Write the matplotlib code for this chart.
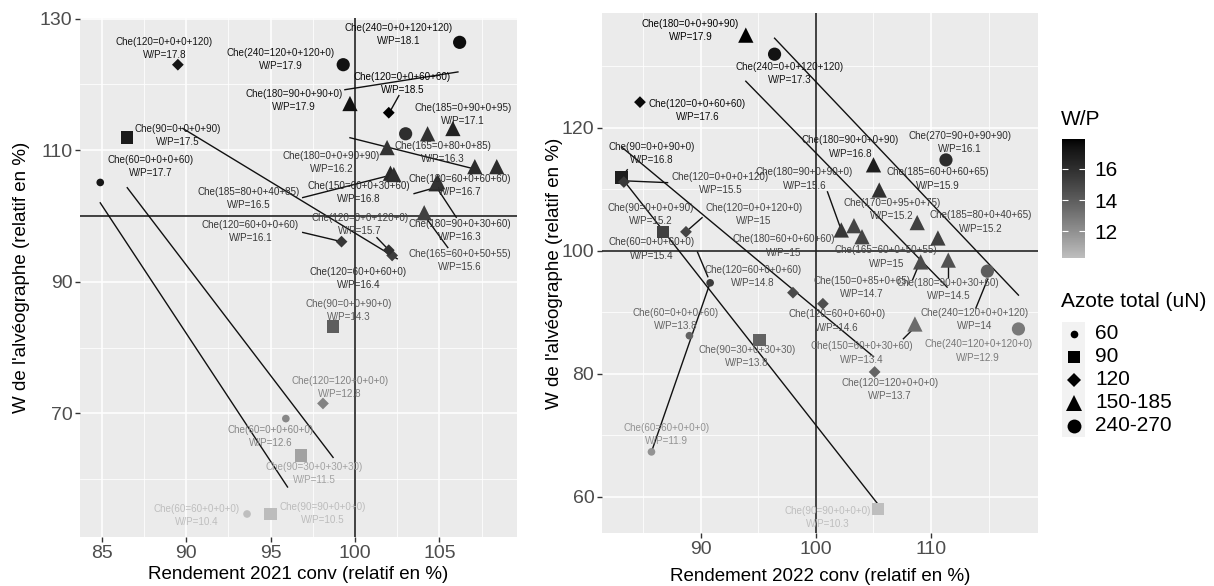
import matplotlib
matplotlib.use("Agg")
import matplotlib.pyplot as plt
import numpy as np
from matplotlib.colors import ListedColormap, Normalize
from matplotlib.cm import ScalarMappable
from matplotlib.ticker import MultipleLocator

plt.rcParams['font.family'] = ['Liberation Sans', 'DejaVu Sans']

# ---- 2021 (left panel) ----
x21 = [89.5, 86.5, 84.9, 99.3, 106.2, 99.7, 102.0, 103.0, 105.8, 104.3, 101.9, 107.1, 108.4,
       102.1, 104.8, 104.1, 102.3, 104.9, 99.2, 102.2, 102.0, 98.1, 98.7, 96.8, 95.0, 95.9, 93.6]
y21 = [123.0, 111.9, 105.1, 123.0, 126.4, 117.1, 115.7, 112.5, 113.3, 112.5, 110.4, 107.5, 107.5,
       106.5, 104.9, 100.5, 106.3, 105.2, 96.1, 94.0, 94.8, 71.5, 83.2, 63.6, 54.7, 69.2, 54.7]
wp21 = [17.8, 17.5, 17.7, 17.9, 18.1, 17.9, 18.5, 16.5, 17.1, 16.3, 16.2, 16.6, 16.6,
        16.8, 16.7, 15.6, 16.5, 16.3, 16.1, 15.7, 16.4, 12.8, 14.3, 11.5, 10.5, 12.6, 10.4]
grp21 = ['120', '90', '60', '240-270', '240-270', '150-185', '120', '240-270', '150-185', '150-185',
         '150-185', '150-185', '150-185', '150-185', '150-185', '150-185', '150-185', '150-185',
         '120', '120', '120', '120', '90', '90', '90', '60', '60']
lab21 = ['Che(120=0+0+0+120)', 'Che(90=0+0+0+90)', 'Che(60=0+0+0+60)', 'Che(240=120+0+120+0)',
         'Che(240=0+0+120+120)', 'Che(180=90+0+90+0)', 'Che(120=0+0+60+60)', '',
         'Che(185=0+90+0+95)', 'Che(165=0+80+0+85)', 'Che(180=0+0+90+90)', '', '',
         'Che(150=60+0+30+60)', 'Che(180=60+0+60+60)', 'Che(165=60+0+50+55)',
         'Che(185=80+0+40+85)', 'Che(180=90+0+30+60)', 'Che(120=60+0+0+60)',
         'Che(120=0+0+120+0)', 'Che(120=60+0+60+0)', 'Che(120=120+0+0+0)', 'Che(90=0+0+90+0)',
         'Che(90=30+0+30+30)', 'Che(90=90+0+0+0)', 'Che(60=0+0+60+0)', 'Che(60=60+0+0+0)']
# label placement (repelled positions)
lx21 = [88.7, 89.5, 87.9, 95.6, 102.6, 96.4, 102.8, 0, 106.4, 105.2, 98.6, 0, 0,
        100.2, 106.2, 106.2, 93.7, 106.2, 93.8, 100.3, 100.2, 99.1, 99.6, 97.6, 98.1, 95.0, 90.6]
ly21 = [125.5, 112.2, 107.5, 123.8, 127.6, 117.5, 120.1, 0, 115.4, 109.6, 108.1, 0, 0,
        103.6, 104.6, 93.2, 102.7, 97.8, 97.6, 98.7, 90.5, 73.9, 85.6, 60.9, 54.8, 66.5, 54.5]
seg21 = [(84.9, 102.0, 96.0, 58.8), (86.5, 104.3, 98.7, 63.3), (89.8, 113.3, 102.5, 93.5),
         (99.4, 119.2, 106.1, 121.9), (99.7, 111.9, 107.0, 107.2), (96.9, 102.8, 101.8, 106.0),
         (102.6, 118.3, 102.1, 116.0), (96.9, 97.5, 99.2, 96.1), (103.5, 103.4, 104.6, 104.2),
         (104.8, 104.5, 106.0, 99.8), (104.1, 100.1, 105.5, 95.2), (101.3, 96.7, 102.2, 94.3)]

# ---- 2022 (right panel) ----
x22 = [93.9, 96.4, 84.7, 83.1, 83.3, 86.7, 88.7, 90.8, 89.0, 95.1, 98.0, 100.6, 105.1, 105.4,
       85.7, 105.0, 105.5, 111.3, 102.2, 103.3, 104.0, 108.8, 110.6, 109.1, 111.5, 108.6, 114.9, 117.6]
y22 = [135.1, 132.0, 124.2, 111.9, 111.2, 103.1, 103.1, 94.8, 86.2, 85.5, 93.2, 91.4, 80.3, 58.0,
       67.3, 114.0, 109.9, 114.8, 103.4, 104.1, 102.3, 104.6, 102.1, 98.2, 98.5, 88.1, 96.7, 87.3]
wp22 = [17.9, 17.3, 17.6, 16.8, 15.5, 15.2, 15.0, 15.4, 13.8, 13.8, 14.8, 14.6, 13.7, 10.3,
        11.9, 16.8, 15.9, 16.1, 15.6, 15.0, 15.0, 15.2, 15.2, 14.7, 14.5, 13.4, 14.0, 12.9]
grp22 = ['150-185', '240-270', '120', '90', '120', '90', '120', '60', '60', '90', '120', '120', '120',
         '90', '60', '150-185', '150-185', '240-270', '150-185', '150-185', '150-185', '150-185',
         '150-185', '150-185', '150-185', '150-185', '240-270', '240-270']
lab22 = ['Che(180=0+0+90+90)', 'Che(240=0+0+120+120)', 'Che(120=0+0+60+60)', 'Che(90=0+0+90+0)',
         'Che(120=0+0+0+120)', 'Che(90=0+0+0+90)', 'Che(120=0+0+120+0)', 'Che(60=0+0+60+0)',
         'Che(60=0+0+0+60)', 'Che(90=30+0+30+30)', 'Che(120=60+0+0+60)', 'Che(120=60+0+60+0)',
         'Che(120=120+0+0+0)', 'Che(90=90+0+0+0)', 'Che(60=60+0+0+0)', 'Che(180=90+0+0+90)',
         'Che(185=60+0+60+65)', 'Che(270=90+0+90+90)', 'Che(180=90+0+90+0)', 'Che(180=60+0+60+60)',
         'Che(165=60+0+50+55)', 'Che(170=0+95+0+75)', 'Che(185=80+0+40+65)', 'Che(150=0+85+0+65)',
         'Che(180=90+0+30+60)', 'Che(150=60+0+30+60)', 'Che(240=120+0+0+120)', 'Che(240=120+0+120+0)']
lx22 = [89.1, 97.7, 89.7, 85.7, 91.7, 85.6, 94.6, 85.7, 87.8, 94.0, 94.5, 101.8, 106.4, 101.0,
        87.0, 103.0, 110.6, 112.5, 99.0, 97.2, 106.1, 106.6, 114.3, 104.0, 111.5, 104.0, 113.8, 114.1]
ly22 = [135.9, 128.9, 122.8, 115.9, 110.9, 105.9, 105.9, 100.3, 88.8, 82.8, 95.8, 88.6, 77.4, 56.6,
        70.1, 116.9, 111.7, 117.6, 111.7, 100.8, 99.0, 106.7, 104.7, 94.0, 93.7, 83.4, 88.8, 83.7]
seg22 = [(96.4, 134.6, 117.6, 92.8), (93.9, 127.6, 111.4, 94.1), (83.1, 116.9, 105.0, 82.8),
         (83.1, 111.9, 105.3, 59.0), (90.8, 94.8, 85.7, 67.3), (89.7, 99.8, 90.6, 95.8),
         (87.1, 111.1, 83.3, 111.4), (83.6, 113.2, 83.1, 111.9), (90.1, 105.4, 89.0, 103.6),
         (101.0, 109.6, 102.1, 103.9), (109.0, 98.0, 108.4, 95.3), (107.6, 85.7, 108.4, 87.2),
         (111.5, 98.2, 111.5, 95.8), (114.9, 95.3, 113.9, 90.7)]

groups = ['60', '90', '120', '150-185', '240-270']
markers = {'60': ('o', 5.5), '90': ('s', 9), '120': ('D', 6), '150-185': ('^', 11), '240-270': ('o', 9.5)}

# grey gradient, interpolated in lightness like ggplot
def grey_cmap(low=190):
    def to_L(v):
        c = v / 255
        lin = c / 12.92 if c <= 0.04045 else ((c + 0.055) / 1.055) ** 2.4
        return 116 * lin ** (1 / 3) - 16 if lin > 0.008856 else 903.3 * lin
    def from_L(L):
        lin = ((L + 16) / 116) ** 3 if L > 8 else L / 903.3
        return 12.92 * lin if lin <= 0.0031308 else 1.055 * lin ** (1 / 2.4) - 0.055
    Ls = np.linspace(to_L(low), 0, 256)
    g = [from_L(L) for L in Ls]
    return ListedColormap([(v, v, v) for v in g])

cmap = grey_cmap()

fig = plt.figure(figsize=(12.14, 5.86), dpi=100)
ax1 = fig.add_axes([80 / 1214, 49 / 586, 437 / 1214, 519 / 586])
ax2 = fig.add_axes([602 / 1214, 53 / 586, 436 / 1214, 520 / 586])


def panel(ax, x, y, wp, grp, lab, lx, ly, seg, xlim, ylim, xmaj, ymaj, xlabel):
    ax.set_facecolor('#EBEBEB')
    for s in ax.spines.values():
        s.set_visible(False)
    ax.set_xlim(*xlim)
    ax.set_ylim(*ylim)
    ax.xaxis.set_major_locator(MultipleLocator(xmaj))
    ax.xaxis.set_minor_locator(MultipleLocator(xmaj / 2))
    ax.yaxis.set_major_locator(MultipleLocator(ymaj))
    ax.yaxis.set_minor_locator(MultipleLocator(ymaj / 2))
    ax.grid(which='major', color='white', lw=1.1)
    ax.grid(which='minor', color='white', lw=0.55)
    ax.set_axisbelow(True)
    ax.tick_params(which='major', length=3.5, width=1, color='#333333', labelsize=14,
                   labelcolor='#4D4D4D', pad=2)
    ax.tick_params(which='minor', length=0)
    ax.set_xlabel(xlabel, fontsize=13.5, va='center')
    ax.set_ylabel("W de l'alvéographe (relatif en %)", fontsize=13.5, va='center')

    ax.axhline(100, color='#222222', lw=1.2, zorder=2)
    ax.axvline(100, color='#222222', lw=1.2, zorder=2)
    for x0, y0, x1, y1 in seg:
        ax.plot([x0, x1], [y0, y1], color='#111111', lw=1.0, zorder=2)

    norm = Normalize(min(wp), max(wp))
    x = np.array(x); y = np.array(y); wp = np.array(wp); grp = np.array(grp)
    for g in groups:
        m = grp == g
        mk, ms = markers[g]
        ax.scatter(x[m], y[m], c=wp[m], cmap=cmap, norm=norm, marker=mk, s=ms ** 2,
                   linewidths=0, zorder=3)
    for i in range(len(x)):
        if lab[i]:
            ax.text(lx[i], ly[i], f"{lab[i]}\nW/P={wp[i]:g}", ha='center', va='center',
                    fontsize=7.1, color=cmap(norm(wp[i])), linespacing=1.4, zorder=4)
    return norm


panel(ax1, x21, y21, wp21, grp21, lab21, lx21, ly21, seg21, (83.7, 109.6), (51.2, 130.1),
      5, 20, 'Rendement 2021 conv (relatif en %)')
ax1.set_yticks([70, 90, 110, 130])
ax1.yaxis.set_minor_locator(matplotlib.ticker.FixedLocator([60, 80, 100, 120]))
norm2 = panel(ax2, x22, y22, wp22, grp22, lab22, lx22, ly22, seg22, (81.4, 119.3), (54.1, 138.7),
              10, 20, 'Rendement 2022 conv (relatif en %)')

ax1.yaxis.set_label_coords(-0.135, 0.5)
ax1.xaxis.set_label_coords(0.5, -0.073)
ax2.yaxis.set_label_coords(-0.108, 0.5)
ax2.xaxis.set_label_coords(0.5, -0.083)

# colour bar legend
cax = fig.add_axes([1062 / 1214, 328 / 586, 23 / 1214, 119 / 586])
cb = fig.colorbar(ScalarMappable(norm=norm2, cmap=cmap), cax=cax, ticks=[12, 14, 16])
cb.outline.set_visible(False)
cax.tick_params(direction='in', color='white', length=4.5, width=0.8, left=True, right=True,
                labelsize=15, pad=7)
fig.text(1061 / 1214, (586 - 125) / 586, 'W/P', fontsize=15, ha='left', va='baseline')

# shape legend
lax = fig.add_axes([1062 / 1214, 149 / 586, 23 / 1214, 115 / 586])
lax.set_facecolor('#F2F2F2')
lax.set_xlim(0, 1)
lax.set_ylim(5, 0)
lax.set_xticks([]); lax.set_yticks([])
for s in lax.spines.values():
    s.set_visible(False)
leg_size = {'60': 5.5, '90': 9, '120': 7, '150-185': 11.5, '240-270': 10}
for i, g in enumerate(groups):
    lax.plot(0.5, i + 0.5, marker=markers[g][0], ms=leg_size[g], color='black', mew=0)
    lax.text(1.45, i + 0.5, g, fontsize=15, va='center', ha='left', clip_on=False)
fig.text(1061 / 1214, (586 - 307) / 586, 'Azote total (uN)', fontsize=15, ha='left', va='baseline')

fig.savefig('out.png', dpi=100)
